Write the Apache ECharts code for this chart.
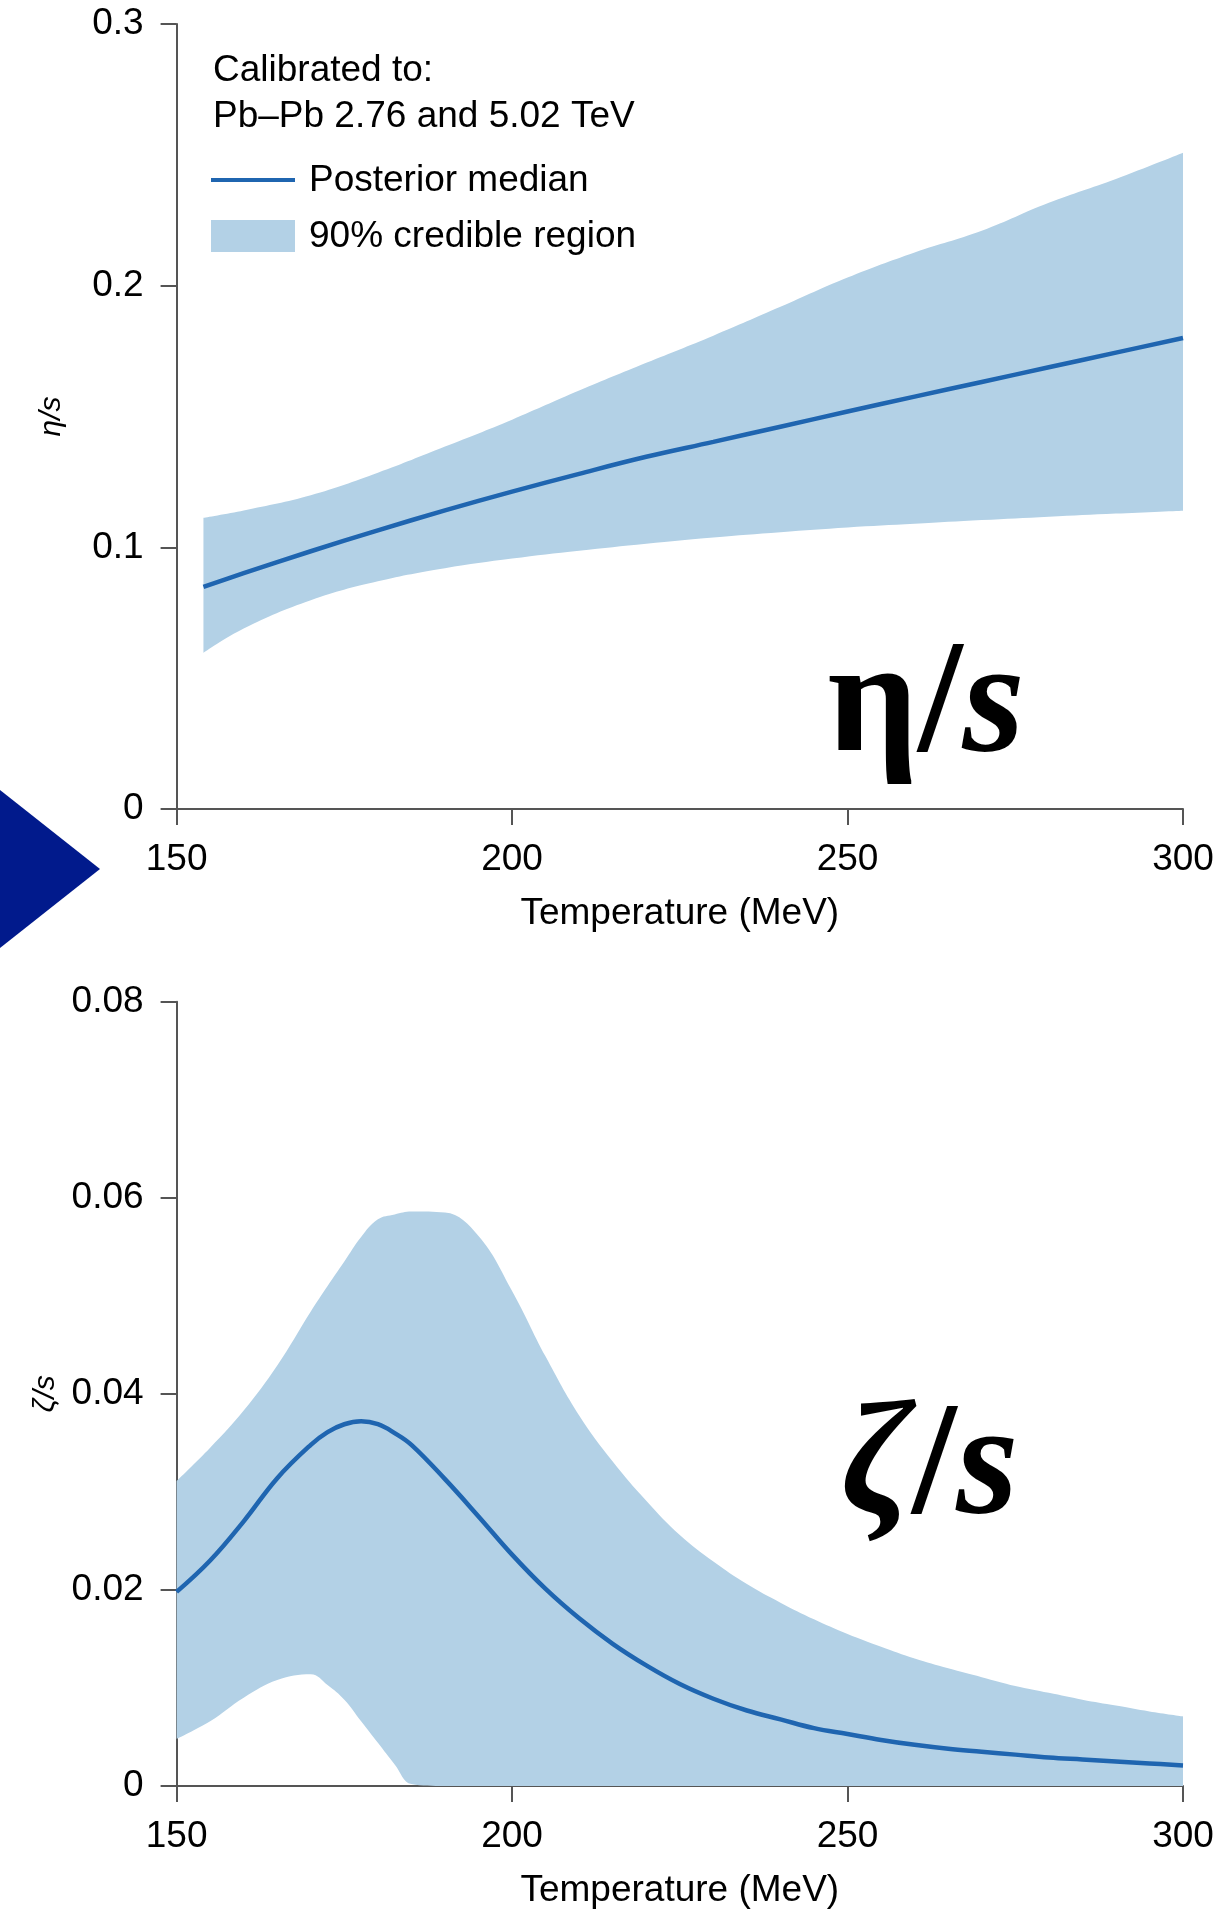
<!DOCTYPE html>
<html>
<head>
<meta charset="utf-8">
<script src="https://cdn.jsdelivr.net/npm/echarts@6/dist/echarts.min.js"></script>
<style>
  html, body { margin: 0; padding: 0; background: #ffffff; }
  #chart { width: 1231px; height: 1917px; }
</style>
</head>
<body>
<div id="chart"></div>
<script>
// Shear viscosity η/s versus temperature (MeV)
const etaT = [154, 160, 170, 180, 190, 200, 210, 220, 230, 240, 250, 260, 270, 280, 290, 300];
const etaMedian = [0.0849, 0.0901, 0.0985, 0.1065, 0.1141, 0.1213, 0.1281, 0.1346, 0.1403, 0.1461, 0.1519, 0.1576, 0.1632, 0.1688, 0.1744, 0.1800];
const etaUpper = [0.1113, 0.1141, 0.1199, 0.1285, 0.1385, 0.1488, 0.1599, 0.1705, 0.1809, 0.1919, 0.2031, 0.2127, 0.2210, 0.2317, 0.2408, 0.2508];
const etaLower = [0.0597, 0.0690, 0.0798, 0.0870, 0.0920, 0.0957, 0.0987, 0.1014, 0.1038, 0.1058, 0.1076, 0.1090, 0.1104, 0.1117, 0.1129, 0.1140];

// Bulk viscosity ζ/s versus temperature (MeV)
const zetaT = [150, 155, 160, 165, 170, 172.5, 175, 177.5, 180, 182.5, 185, 190, 195, 200, 205, 210, 215, 220, 225, 230, 235, 240, 245, 250, 255, 260, 265, 270, 275, 280, 285, 290, 295, 300];
const zetaMedian = [0.0198, 0.0230, 0.0270, 0.0314, 0.0348, 0.0361, 0.0369, 0.0372, 0.0369, 0.0360, 0.0348, 0.0313, 0.0275, 0.0236, 0.0201, 0.0171, 0.0145, 0.0123, 0.0104, 0.0089, 0.0077, 0.0068, 0.0059, 0.0053, 0.0047, 0.0042, 0.0038, 0.0035, 0.0032, 0.0029, 0.0027, 0.0025, 0.0023, 0.0021];
const zetaUpper = [0.0311, 0.0345, 0.0383, 0.0429, 0.0484, 0.0510, 0.0535, 0.0560, 0.0578, 0.0583, 0.0586, 0.0585, 0.0561, 0.0505, 0.0438, 0.0378, 0.0331, 0.0291, 0.0256, 0.0229, 0.0206, 0.0187, 0.0170, 0.0155, 0.0142, 0.0130, 0.0120, 0.0111, 0.0102, 0.0095, 0.0088, 0.0082, 0.0076, 0.0071];
const zetaLower = [0.0048, 0.0066, 0.0090, 0.0108, 0.0114, 0.0103, 0.0088, 0.0066, 0.0044, 0.0022, 0.0002, 0, 0, 0, 0, 0, 0, 0, 0, 0, 0, 0, 0, 0, 0, 0, 0, 0, 0, 0, 0, 0, 0, 0];

const xTicks = [150, 200, 250, 300];
const etaTicks = [0, 0.1, 0.2, 0.3];
const zetaTicks = [0, 0.02, 0.04, 0.06, 0.08];

const LINE = '#1f65b0';
const BAND = '#b3d1e6';
const AXIS = '#555555';
const SANS = '"Liberation Sans", Arial, Helvetica, sans-serif';
const SERIF = '"Liberation Serif", "Times New Roman", serif';
const FS = 37;

const pairs = (xs, ys) => xs.map((x, i) => [x, ys[i]]);
// value first, temperature second: the stack then accumulates on the y dimension
const stackRows = (xs, ys) => xs.map((x, i) => [ys[i], x]);
const gaps = (hi, lo) => hi.map((h, i) => +(h - lo[i]).toFixed(5));

function xAxisFor(gridIndex) {
  return {
    type: 'value', gridIndex,
    min: xTicks[0], max: xTicks[xTicks.length - 1], interval: xTicks[1] - xTicks[0],
    name: 'Temperature (MeV)', nameLocation: 'middle', nameGap: 86,
    nameTextStyle: { fontFamily: SANS, fontSize: FS, color: '#000' },
    axisLine: { lineStyle: { color: AXIS, width: 2 } },
    axisTick: { show: true, length: 16, lineStyle: { color: AXIS, width: 2 } },
    axisLabel: { fontFamily: SANS, fontSize: FS, color: '#000', margin: 32 },
    splitLine: { show: false }
  };
}
function yAxisFor(gridIndex, ticks, name) {
  return {
    type: 'value', gridIndex,
    min: ticks[0], max: ticks[ticks.length - 1], interval: ticks[1] - ticks[0],
    name, nameLocation: 'middle', nameRotate: 90, nameGap: 110,
    nameTextStyle: { fontFamily: SANS, fontSize: 30, fontStyle: 'italic', color: '#000' },
    axisLine: { show: true, lineStyle: { color: AXIS, width: 2 } },
    axisTick: { show: true, length: 16, lineStyle: { color: AXIS, width: 2 } },
    axisLabel: { fontFamily: SANS, fontSize: FS, color: '#000', margin: 33 },
    splitLine: { show: false }
  };
}

function bandSeries(idx, xs, lo, hi, stackName) {
  return [
    {
      type: 'line', xAxisIndex: idx, yAxisIndex: idx, stack: stackName,
      encode: { x: 1, y: 0 },
      data: stackRows(xs, lo), smooth: 0.4, symbol: 'none',
      lineStyle: { width: 0, opacity: 0 }, silent: true, z: 1
    },
    {
      type: 'line', xAxisIndex: idx, yAxisIndex: idx, stack: stackName,
      encode: { x: 1, y: 0 },
      data: stackRows(xs, gaps(hi, lo)), smooth: 0.4, symbol: 'none',
      lineStyle: { width: 0, opacity: 0 },
      areaStyle: { color: BAND, opacity: 1 }, silent: true, z: 1
    }
  ];
}
function medianSeries(idx, xs, ys) {
  return {
    type: 'line', xAxisIndex: idx, yAxisIndex: idx,
    data: pairs(xs, ys), smooth: 0.4, symbol: 'none',
    lineStyle: { color: LINE, width: 4.5 }, z: 3
  };
}

const legendText = (x, y, text) => ({
  type: 'text', x, y,
  style: { text, font: FS + 'px ' + SANS, fill: '#000', verticalAlign: 'middle' }
});

const chart = echarts.init(document.getElementById('chart'), null, { renderer: 'canvas' });
chart.setOption({
  animation: false,
  backgroundColor: '#ffffff',
  grid: [
    { left: 176.6, right: 48, top: 24, height: 785 },
    { left: 176.6, right: 48, top: 1001.7, height: 784.3 }
  ],
  xAxis: [xAxisFor(0), xAxisFor(1)],
  yAxis: [yAxisFor(0, etaTicks, 'η/s'), yAxisFor(1, zetaTicks, 'ζ/s')],
  series: [
    ...bandSeries(0, etaT, etaLower, etaUpper, 'etaBand'),
    medianSeries(0, etaT, etaMedian),
    ...bandSeries(1, zetaT, zetaLower, zetaUpper, 'zetaBand'),
    medianSeries(1, zetaT, zetaMedian)
  ],
  graphic: [
    // legend block
    legendText(213, 71, 'Calibrated to:'),
    legendText(213, 117, 'Pb–Pb 2.76 and 5.02 TeV'),
    { type: 'line', shape: { x1: 211, y1: 180, x2: 295, y2: 180 }, style: { stroke: LINE, lineWidth: 4 } },
    legendText(309, 181, 'Posterior median'),
    { type: 'rect', shape: { x: 211, y: 220, width: 84, height: 32 }, style: { fill: BAND } },
    legendText(309, 237, '90% credible region'),
    // large panel captions
    {
      type: 'text', x: 926, y: 709,
      style: {
        text: '{a|η}{b|/}{c|s}', align: 'center', verticalAlign: 'middle',
        rich: {
          a: { fontFamily: SERIF, fontSize: 160, fontWeight: 'bold', fill: '#000' },
          b: { fontFamily: SERIF, fontSize: 160, fontWeight: 'bold', fill: '#000' },
          c: { fontFamily: SERIF, fontSize: 160, fontWeight: 'bold', fontStyle: 'italic', fill: '#000' }
        }
      }
    },
    {
      type: 'text', x: 930, y: 1471,
      style: {
        text: '{a|ζ}{b|/}{c|s}', align: 'center', verticalAlign: 'middle',
        rich: {
          a: { fontFamily: SERIF, fontSize: 160, fontWeight: 'bold', fontStyle: 'italic', fill: '#000' },
          b: { fontFamily: SERIF, fontSize: 160, fontWeight: 'bold', fill: '#000' },
          c: { fontFamily: SERIF, fontSize: 160, fontWeight: 'bold', fontStyle: 'italic', fill: '#000' }
        }
      }
    },
    // navigation arrow on the left edge
    { type: 'polygon', shape: { points: [[0, 790], [100, 869], [0, 948]] }, style: { fill: '#011a8c' } }
  ]
});
</script>
</body>
</html>
